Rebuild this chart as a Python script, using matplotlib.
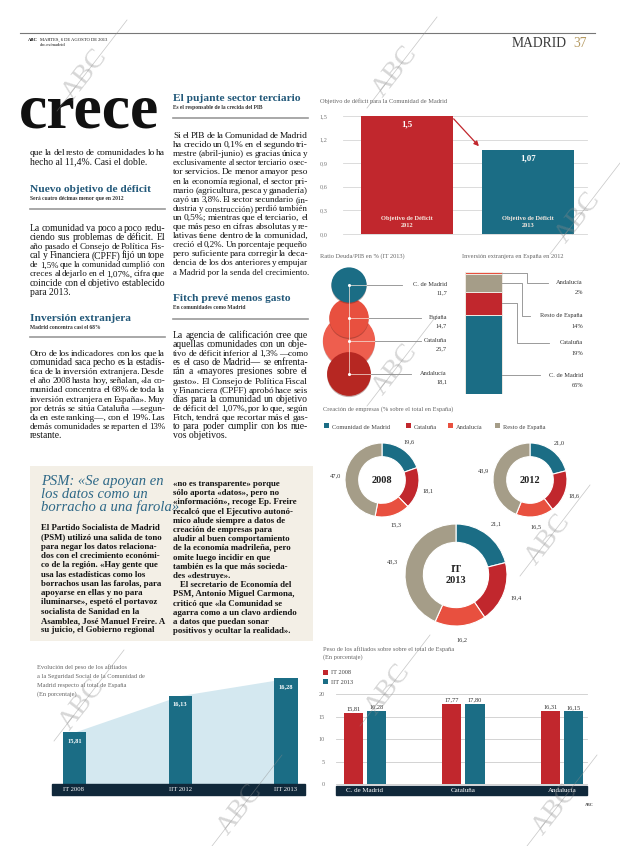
import matplotlib
matplotlib.use('Agg')
import matplotlib.pyplot as plt
import matplotlib.transforms as mtransforms
from matplotlib.patches import Rectangle, Circle
from matplotlib.lines import Line2D
import numpy as np

# ---------------- DATA ----------------
deficit_labels = ['Objetivo de Déficit\n2012', 'Objetivo de Déficit\n2013']
deficit_values = [1.5, 1.07]
deficit_ticks = [0.0, 0.3, 0.6, 0.9, 1.2, 1.5]

deuda_regions = ['C. de Madrid', 'España', 'Cataluña', 'Andalucía']
deuda_values = [11.7, 14.7, 25.7, 18.1]

inv_regions = ['C. de Madrid', 'Cataluña', 'Resto de España', 'Andalucía']
inv_values = [65, 19, 14, 2]

emp_series = ['Comunidad de Madrid', 'Cataluña', 'Andalucía', 'Resto de España']
emp_2008 = [19.6, 18.1, 15.3, 47.0]
emp_2012 = [21.0, 18.6, 16.5, 43.9]
emp_2013 = [21.1, 19.4, 16.2, 43.3]

af_regions = ['C. de Madrid', 'Cataluña', 'Andalucía']
af_it2008 = [15.81, 17.77, 16.31]
af_iit2013 = [16.28, 17.80, 16.15]
af_ticks = [0, 5, 10, 15, 20]

evo_periods = ['IT 2008', 'IIT 2012', 'IIT 2013']
evo_madrid = [15.81, 16.13, 16.28]

# ---------------- STYLE ----------------
TEAL = '#1b6d85'
RED = '#c1272d'
SALMON = '#e8503f'
SALMON2 = '#ee5e4e'
DARKRED = '#b62722'
TAN = '#a59d88'
DARK = '#10283a'
HEAD = '#23597a'
INK = '#131313'
GREY = '#666666'
SERIF = ['Liberation Serif', 'DejaVu Serif']
plt.rcParams['font.family'] = SERIF
BODY = 6.9

W, H = 620, 846
fig = plt.figure(figsize=(6.2, 8.46), dpi=100)
fig.patch.set_facecolor('white')
renderer = fig.canvas.get_renderer()


def fx(x):
    return x / W


def fy(y):
    return 1 - y / H


def T(x, y, s, size=BODY, color=INK, ha='left', va='baseline', weight='normal',
      style='normal', **kw):
    return fig.text(fx(x), fy(y), s, fontsize=size, color=color, ha=ha, va=va,
                    fontweight=weight, fontstyle=style, family=SERIF, **kw)


def AX(x0, y0, x1, y1):
    return fig.add_axes([x0 / W, 1 - y1 / H, (x1 - x0) / W, (y1 - y0) / H])


def HL(x0, x1, y, color='#999999', lw=1.2):
    fig.add_artist(Line2D([fx(x0), fx(x1)], [fy(y), fy(y)], color=color, lw=lw,
                          transform=fig.transFigure))


def RECT(x0, y0, x1, y1, color, z=0, **kw):
    fig.add_artist(Rectangle((fx(x0), fy(y1)), (x1 - x0) / W, (y1 - y0) / H,
                             transform=fig.transFigure, facecolor=color,
                             edgecolor='none', zorder=z, **kw))


def fit(x, y, line, width, size=BODY, **kw):
    t = T(x, y, line, size=size, **kw)
    wd = t.get_window_extent(renderer).width
    if wd > width:
        t.set_fontsize(size * width / wd)
    return t


def justify(x, y, line, width, size=BODY, **kw):
    words = line.split(' ')
    if len(words) < 2:
        fit(x, y, line, width, size=size, **kw)
        return
    mingap = 1.3
    objs = [T(x, y, w, size=size, **kw) for w in words]
    ws = [o.get_window_extent(renderer).width for o in objs]
    need = sum(ws) + mingap * (len(words) - 1)
    if need > width:
        f = width / need
        for o in objs:
            o.set_fontsize(size * f)
        ws = [o.get_window_extent(renderer).width for o in objs]
    gap = max((width - sum(ws)) / (len(words) - 1), mingap * 0.8)
    cx = x
    for o, wd in zip(objs, ws):
        o.set_x(fx(cx))
        cx += wd + gap


def para(x, y0, lines, width=135, lh=9.1, size=BODY, just=True, weight='normal',
         nojust=(), indent=()):
    for i, l in enumerate(lines):
        y = y0 + i * lh
        xi = x + (7 if i in indent else 0)
        wi = width - (7 if i in indent else 0)
        if just and i < len(lines) - 1 and i not in nojust:
            justify(xi, y, l, wi, size=size, weight=weight)
        else:
            fit(xi, y, l, wi, size=size, weight=weight)


def wm(x, y, size=20):
    fig.text(fx(x), fy(y), 'ABC', rotation=52, color='#8c8c8c', alpha=0.35,
             fontsize=size, family=SERIF, ha='center', va='center', zorder=20)
    fig.add_artist(Line2D([fx(x - 28), fx(x + 42)], [fy(y + 36), fy(y - 55)],
                          color='#8c8c8c', lw=0.5, alpha=0.5,
                          transform=fig.transFigure, zorder=20))


# ---------------- HEADER ----------------
HL(20, 595, 33.5, color='#777777', lw=0.8)
T(28, 41, 'ABC', size=3.3, weight='bold')
T(40, 41, 'MARTES, 6 DE AGOSTO DE 2013', size=3.3)
T(40, 46, 'abc.es/madrid', size=3.3)
T(567, 47, 'MADRID', size=9.8, color='#3a3a3a', ha='right')
T(573, 47, '37', size=9.8, color='#b59a62')

# ---------------- LEFT COLUMN ----------------
T(19, 128, 'crece', size=46, weight='bold', color='#111111')
para(30, 155, ["que la del resto de comunidades lo ha",
               "hecho al 11,4%. Casi el doble."], lh=9.5)
T(30, 192, 'Nuevo objetivo de déficit', size=8.2, weight='bold', color=HEAD)
T(30, 200, 'Será cuatro décimas menor que en 2012', size=4.0, weight='bold', color='#333333')
HL(30, 165, 208.5)
para(30, 231, [
    "La comunidad va poco a poco redu-",
    "ciendo sus problemas de déficit. El",
    "año pasado el Consejo de Política Fis-",
    "cal y Financiera (CPFF) fijó un tope",
    "de 1,5% que la comunidad cumplió con",
    "creces al dejarlo en el 1,07%, cifra que",
    "coincide con el objetivo establecido",
    "para 2013."])
T(30, 321, 'Inversión extranjera', size=8.2, weight='bold', color=HEAD)
T(30, 329, 'Madrid concentra casi el 68%', size=4.0, weight='bold', color='#333333')
HL(30, 165, 337.5)
para(30, 356, [
    "Otro de los indicadores con los que la",
    "comunidad saca pecho es la estadís-",
    "tica de la inversión extranjera. Desde",
    "el año 2008 hasta hoy, señalan, «la co-",
    "munidad concentra el 68% de toda la",
    "inversión extranjera en España». Muy",
    "por detrás se sitúa Cataluña —segun-",
    "da en este ranking—, con el 19%. Las",
    "demás comunidades se reparten el 13%",
    "restante."])

# ---------------- MIDDLE COLUMN ----------------
T(173, 101, 'El pujante sector terciario', size=8.2, weight='bold', color=HEAD)
T(173, 109, 'Es el responsable de la crecida del PIB', size=4.0, weight='bold', color='#333333')
HL(173, 308, 118.5)
para(173, 138, [
    "Si el PIB de la Comunidad de Madrid",
    "ha crecido un 0,1% en el segundo tri-",
    "mestre (abril-junio) es gracias única y",
    "exclusivamente al sector terciario o sec-",
    "tor servicios. De menor a mayor peso",
    "en la economía regional, el sector pri-",
    "mario (agricultura, pesca y ganadería)",
    "cayó un 3,8%. El sector secundario (in-",
    "dustria y construcción) perdió también",
    "un 0,5%; mientras que el terciario, el",
    "que más peso en cifras absolutas y re-",
    "lativas tiene dentro de la comunidad,",
    "creció el 0,2%. Un porcentaje pequeño",
    "pero suficiente para corregir la deca-",
    "dencia de los dos anteriores y empujar",
    "a Madrid por la senda del crecimiento."])
T(173, 301, 'Fitch prevé menos gasto', size=8.2, weight='bold', color=HEAD)
T(173, 309, 'En comunidades como Madrid', size=4.0, weight='bold', color='#333333')
HL(173, 308, 319)
para(173, 338, [
    "La agencia de calificación cree que",
    "aquellas comunidades con un obje-",
    "tivo de déficit inferior al 1,3% —como",
    "es el caso de Madrid— se enfrenta-",
    "rán a «mayores presiones sobre el",
    "gasto». El Consejo de Política Fiscal",
    "y Financiera (CPFF) aprobó hace seis",
    "días para la comunidad un objetivo",
    "de déficit del 1,07%, por lo que, según",
    "Fitch, tendrá que recortar más el gas-",
    "to para poder cumplir con los nue-",
    "vos objetivos."])

# ---------------- PSM BOX ----------------
RECT(30, 466, 313, 641, '#f3efe6', z=0)
for i, l in enumerate(["PSM: «Se apoyan en", "los datos como un", "borracho a una farola»"]):
    T(41, 485 + i * 13.2, l, size=10.5, style='italic', color='#2e6887')
para(41, 530, [
    "El Partido Socialista de Madrid",
    "(PSM) utilizó una salida de tono",
    "para negar los datos relaciona-",
    "dos con el crecimiento económi-",
    "co de la región. «Hay gente que",
    "usa las estadísticas como los",
    "borrachos usan las farolas, para",
    "apoyarse en ellas y no para",
    "iluminarse», espetó el portavoz",
    "socialista de Sanidad en la",
    "Asamblea, José Manuel Freire. A",
    "su juicio, el Gobierno regional"], width=126, lh=9.3, size=6.3, just=False,
    weight='bold')
para(173, 486, [
    "«no es transparente» porque",
    "sólo aporta «datos», pero no",
    "«información», recoge Ep. Freire",
    "recalcó que el Ejecutivo autonó-",
    "mico alude siempre a datos de",
    "creación de empresas para",
    "aludir al buen comportamiento",
    "de la economía madrileña, pero",
    "omite luego incidir en que",
    "también es la que más socieda-",
    "des «destruye».",
    "El secretario de Economía del",
    "PSM, Antonio Miguel Carmona,",
    "criticó que «la Comunidad se",
    "agarra como a un clavo ardiendo",
    "a datos que puedan sonar",
    "positivos y ocultar la realidad»."], width=137, lh=9.2, size=6.3, just=False,
    weight='bold', indent=(11,))

# ---------------- CHART 1: déficit ----------------
T(320, 103, 'Objetivo de déficit para la Comunidad de Madrid', size=4.6, color=GREY)
ax1 = AX(343, 116, 587, 234)
xs = np.arange(len(deficit_values))
bw = 0.76
ax1.bar(xs, deficit_values, width=bw, color=[RED, TEAL], zorder=3)
ax1.set_ylim(0, 1.5)
ax1.set_xlim(-0.529, 1.488)
ax1.set_yticks(deficit_ticks)
ax1.set_yticklabels([f'{t:.1f}'.replace('.', ',') for t in deficit_ticks])
ax1.tick_params(axis='y', length=0, pad=11, labelsize=4.5, labelcolor='#777777')
ax1.set_xticks([])
for t in deficit_ticks:
    ax1.axhline(t, color='#d6d6d6', lw=0.6, zorder=1, clip_on=False)
for s in ax1.spines.values():
    s.set_visible(False)
ax1.patch.set_alpha(0)
for i, (v, lab) in enumerate(zip(deficit_values, deficit_labels)):
    ax1.text(i, v - 0.06, f'{v:g}'.replace('.', ','), ha='center', va='top',
             color='white', fontsize=6.5, fontweight='bold', zorder=4)
    ax1.text(i, 0.07, lab, ha='center', va='bottom', color='#f6e9e0',
             fontsize=4.6, fontweight='bold', linespacing=1.5, zorder=4)
ax1.annotate('', xy=(1 - bw / 2 - 0.01, deficit_values[1] + 0.02),
             xytext=(0 + bw / 2 - 0.01, deficit_values[0] - 0.01),
             arrowprops=dict(arrowstyle='-|>', color=RED, lw=0.9, mutation_scale=7),
             zorder=5, annotation_clip=False)

# ---------------- CHART 2: ratio deuda/PIB (bubbles) ----------------
T(320, 258, 'Ratio Deuda/PIB en % (IT 2013)', size=4.6, color=GREY)
ax2 = AX(312, 262, 460, 402)
ax2.set_xlim(312, 460)
ax2.set_ylim(402, 262)
ax2.axis('off')
bub_x = 349
bub_y = [285, 318, 341, 374]             # layout positions
bub_col = [TEAL, SALMON, SALMON2, DARKRED]
bub_z = [5, 3, 1, 4]
bub_end = [402, 421, 421, 411]
for reg, v, yy, c, z, xe in zip(deuda_regions, deuda_values, bub_y, bub_col, bub_z, bub_end):
    r = 5.15 * np.sqrt(v)
    ax2.add_patch(Circle((bub_x, yy + 1.2), r, color='#5a1a14', alpha=0.35, zorder=z - 0.5, lw=0))
    ax2.add_patch(Circle((bub_x, yy), r, color=c, zorder=z, lw=0))
    ax2.plot([bub_x, bub_x + r], [yy, yy], color='#f5e6dc', lw=0.5, zorder=6)
    ax2.plot([bub_x + r, xe], [yy, yy], color='#8a8a8a', lw=0.6, zorder=6)
    ax2.text(447, yy - 1, reg, ha='right', va='center', fontsize=4.6, color='#333333')
    ax2.text(447, yy + 8, f'{v:.1f}'.replace('.', ','), ha='right', va='center',
             fontsize=4.6, color='#333333')
ax2.plot([bub_x, bub_x], [bub_y[0], bub_y[-1]], color='#f5e6dc', lw=0.5, zorder=6)
ax2.scatter([bub_x] * 4, bub_y, s=1.5, color='white', zorder=7)

# ---------------- CHART 3: inversión extranjera (stacked) ----------------
T(462, 258, 'Inversión extranjera en España en 2012', size=4.6, color=GREY)
ax3 = AX(465, 272, 590, 394)
ax3.set_xlim(0, 125)
ax3.set_ylim(0, 100)
ax3.axis('off')
inv_col = [TEAL, RED, TAN, SALMON]
bottom = 0
mids = []
for v, c in zip(inv_values, inv_col):
    ax3.bar(18.5, v, width=37, bottom=bottom, color=c, edgecolor='#efe9e2', linewidth=0.7)
    mids.append(bottom + v / 2)
    bottom += v


def py(ypx):
    return (394 - ypx) / 1.22


lab_y = [375, 343, 316, 283]              # layout positions (px)
elbow = [None, 52, 57, 62]
lend = [75, 84, 65, 83]
start_y = [py(375), mids[1], mids[2], 99.3]
for reg, v, ly, el, le, sy in zip(inv_regions, inv_values, lab_y, elbow, lend, start_y):
    if el is None:
        ax3.plot([37, le], [sy, sy], color='#8a8a8a', lw=0.6)
    else:
        ax3.plot([37, el, el, le], [sy, sy, py(ly), py(ly)], color='#8a8a8a', lw=0.6)
    ax3.text(118, py(ly), reg, ha='right', va='center', fontsize=4.6, color='#333333')
    ax3.text(118, py(ly + 10), f'{v}%', ha='right', va='center', fontsize=4.6, color='#333333')

# ---------------- CHART 4: creación de empresas (donuts) ----------------
T(323, 411, 'Creación de empresas (% sobre el total en España)', size=4.6, color=GREY)
emp_col = [TEAL, RED, SALMON, TAN]
leg_x = [324, 406, 448, 495]
for lx, c, name in zip(leg_x, emp_col, emp_series):
    RECT(lx, 423.5, lx + 5, 428.5, c, z=3)
    T(lx + 8, 428.5, name, size=4.6, color='#444444')


def donut(cx, cy, R, vals, width, ctext, fs):
    s = R * 1.75
    ax = AX(cx - s, cy - s, cx + s, cy + s)
    ax.pie(vals, colors=emp_col, startangle=90, counterclock=False, radius=1,
           wedgeprops=dict(width=width, edgecolor='white', linewidth=0.8))
    ax.set_xlim(-1.75, 1.75)
    ax.set_ylim(-1.75, 1.75)
    ax.set_aspect('equal')
    ax.axis('off')
    cum = np.cumsum(vals) - np.array(vals) / 2
    for v, c in zip(vals, cum):
        ang = np.deg2rad(90 - 360 * c / 100)
        ax.text(1.27 * np.cos(ang), 1.27 * np.sin(ang), f'{v:.1f}'.replace('.', ','),
                ha='center', va='center', fontsize=4.6, color='#333333')
    ax.text(0, 0, ctext, ha='center', va='center', fontsize=fs, fontweight='bold',
            color='#222222', linespacing=1.3)


donut(382, 480, 37, emp_2008, 0.37, '2008', 7.5)
donut(530, 480, 37, emp_2012, 0.37, '2012', 7.5)
donut(456, 575, 51, emp_2013, 0.36, 'IT\n2013', 7.5)

# ---------------- CHART 5: peso afiliados (grouped bars) ----------------
T(323, 651, 'Peso de los afiliados sobre sobre el total de España', size=4.6, color=GREY)
T(323, 659, '(En porcentaje)', size=4.6, color=GREY)
RECT(323, 669.5, 328, 674.5, RED, z=3)
T(331, 674.5, 'IT 2008', size=4.6, color='#444444')
RECT(323, 678.5, 328, 683.5, TEAL, z=3)
T(331, 683.5, 'IIT 2013', size=4.6, color='#444444')
ax5 = AX(336, 694, 587, 784)
xg = np.arange(len(af_regions))
off, w5 = 0.117, 0.193
ax5.bar(xg - off, af_it2008, width=w5, color=RED, zorder=3)
ax5.bar(xg + off, af_iit2013, width=w5, color=TEAL, zorder=3)
for xi, a, b in zip(xg, af_it2008, af_iit2013):
    ax5.text(xi - off, a + 0.3, f'{a:.2f}'.replace('.', ','), ha='center', va='bottom',
             fontsize=4.6, color='#333333', zorder=4)
    ax5.text(xi + off, b + 0.3, f'{b:.2f}'.replace('.', ','), ha='center', va='bottom',
             fontsize=4.6, color='#333333', zorder=4)
ax5.set_ylim(0, 20)
ax5.set_xlim(-0.294, 2.254)
ax5.set_yticks(af_ticks)
ax5.set_yticklabels([str(t) for t in af_ticks])
ax5.tick_params(axis='y', length=0, pad=8, labelsize=4.5, labelcolor='#777777')
ax5.set_xticks([])
for t in af_ticks:
    ax5.axhline(t, color='#cccccc', lw=0.6, zorder=1, clip_on=False)
for s in ax5.spines.values():
    s.set_visible(False)
ax5.patch.set_alpha(0)
ax5.add_patch(Rectangle((0, -0.122), 1, 0.1, transform=ax5.transAxes, clip_on=False,
                        color=DARK, zorder=5))
tr5 = mtransforms.blended_transform_factory(ax5.transData, ax5.transAxes)
for xi, reg in zip(xg, af_regions):
    ax5.text(xi, -0.072, reg, transform=tr5, ha='center', va='center', color='white',
             fontsize=5.0, zorder=6, clip_on=False)
T(585, 806, 'ABC', size=3.0, weight='bold', color='#444444')

# ---------------- CHART 6: evolución (bars + area) ----------------
for i, l in enumerate(['Evolución del peso de los afiliados',
                       'a la Seguridad Social de la Comunidad de',
                       'Madrid respecto al total de España',
                       '(En porcentaje)']):
    T(37, 669 + i * 9, l, size=4.6, color=GREY)
ax6 = AX(52, 660, 305, 784)
base = 15.354
xe6 = np.arange(len(evo_periods))
ax6.fill_between(xe6, evo_madrid, base, color='#d4e8f0', lw=0, zorder=1)
ax6.bar(xe6, np.array(evo_madrid) - base, bottom=base, width=0.222, color=TEAL, zorder=3)
for xi, v in zip(xe6, evo_madrid):
    ax6.text(xi, v - 0.05, f'{v:.2f}'.replace('.', ','), ha='center', va='top',
             color='white', fontsize=4.6, fontweight='bold', zorder=4)
ax6.set_ylim(base, 16.442)
ax6.set_xlim(-0.213, 2.18)
ax6.axis('off')
ax6.add_patch(Rectangle((0, -0.089), 1, 0.089, transform=ax6.transAxes, clip_on=False,
                        color=DARK, zorder=5))
tr6 = mtransforms.blended_transform_factory(ax6.transData, ax6.transAxes)
for xi, lab in zip(xe6, evo_periods):
    ax6.text(xi - 0.111, -0.045, lab, transform=tr6, ha='left', va='center',
             color='white', fontsize=4.8, zorder=6, clip_on=False)

# ---------------- WATERMARKS ----------------
for (wx, wy) in [(85, 75), (395, 72), (578, 218), (395, 370), (548, 540),
                 (82, 705), (388, 690), (240, 810), (555, 810)]:
    wm(wx, wy)

fig.savefig('out.png', dpi=100, facecolor='white')
